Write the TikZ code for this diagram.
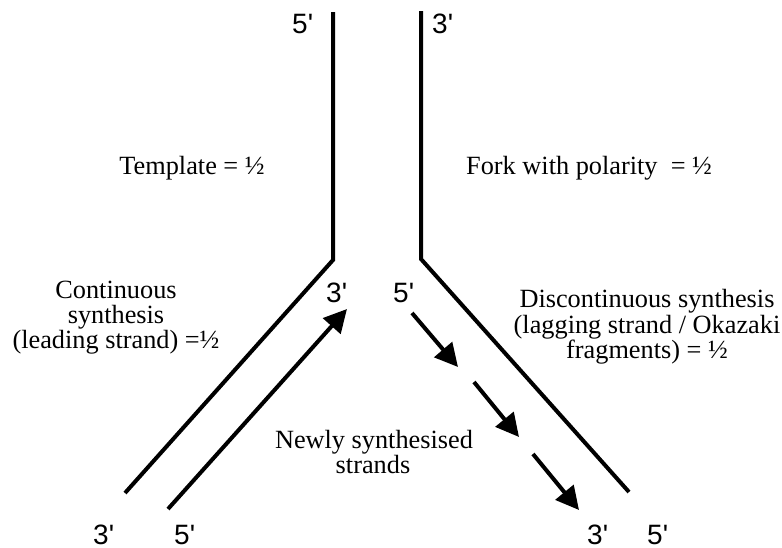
\documentclass[tikz,border=0pt]{standalone}
\usepackage{fontspec}
\setmainfont{Liberation Serif}
\newfontfamily\labelfont[Ligatures=TeXOff]{Liberation Sans}
\usetikzlibrary{arrows.meta}
\begin{document}
\begin{tikzpicture}[x=1pt,y=-1pt,
  strand/.style={line width=4pt},
  newstrand/.style={line width=4pt,-{Triangle[length=23pt,width=23pt]}},
  endlabel/.style={font=\labelfont\fontsize{28}{28}\selectfont,anchor=base west,inner sep=0pt},
  caption/.style={font=\fontsize{26.3}{25}\selectfont,anchor=base,inner sep=0pt}]
\useasboundingbox (0,0) rectangle (782,547);
% template strands
\coordinate (LT) at (333,12);
\coordinate (LB) at (333,260);
\coordinate (LE) at (125,493);
\coordinate (RT) at (421,11);
\coordinate (RB) at (421,259);
\coordinate (RE) at (629,492);
\draw[strand] (LT) -- (LB) -- (LE);
\draw[strand] (RT) -- (RB) -- (RE);
% leading strand
\coordinate (A0) at (168,509);
\coordinate (A1) at (347,309);
\draw[newstrand] (A0) -- (A1);
% lagging fragments
\coordinate (F1s) at (412,313);
\coordinate (F1e) at (458,367);
\coordinate (F2s) at (474,382);
\coordinate (F2e) at (519,437);
\coordinate (F3s) at (533,454);
\coordinate (F3e) at (579,510);
\draw[newstrand] (F1s) -- (F1e);
\draw[newstrand] (F2s) -- (F2e);
\draw[newstrand] (F3s) -- (F3e);
% end labels
\node[endlabel] (t5) at (292,33) {5'};
\node[endlabel] (t3) at (432,33) {3'};
\node[endlabel] (m3) at (326,302) {3'};
\node[endlabel] (m5) at (393,302) {5'};
\node[endlabel] (b3l) at (93,544) {3'};
\node[endlabel] (b5l) at (174,544) {5'};
\node[endlabel] (b3r) at (587,544) {3'};
\node[endlabel] (b5r) at (647,544) {5'};
% captions
\node[caption] (tmpl) at (192,174) {Template = ½};
\node[caption,anchor=base west] (fork) at (466,174) {Fork with polarity\ \ = ½};
\node[caption] (c1) at (116,298) {Continuous};
\node[caption] (c2) at (116,323) {synthesis};
\node[caption] (c3) at (116,348) {(leading strand) =½};
\node[caption] (d1) at (647,307) {Discontinuous synthesis};
\node[caption] (d2) at (647,333) {(lagging strand / Okazaki};
\node[caption] (d3) at (647,358) {fragments) = ½};
\node[caption] (n1) at (374,448) {Newly synthesised};
\node[caption] (n2) at (373,473) {strands};
\end{tikzpicture}
\end{document}
